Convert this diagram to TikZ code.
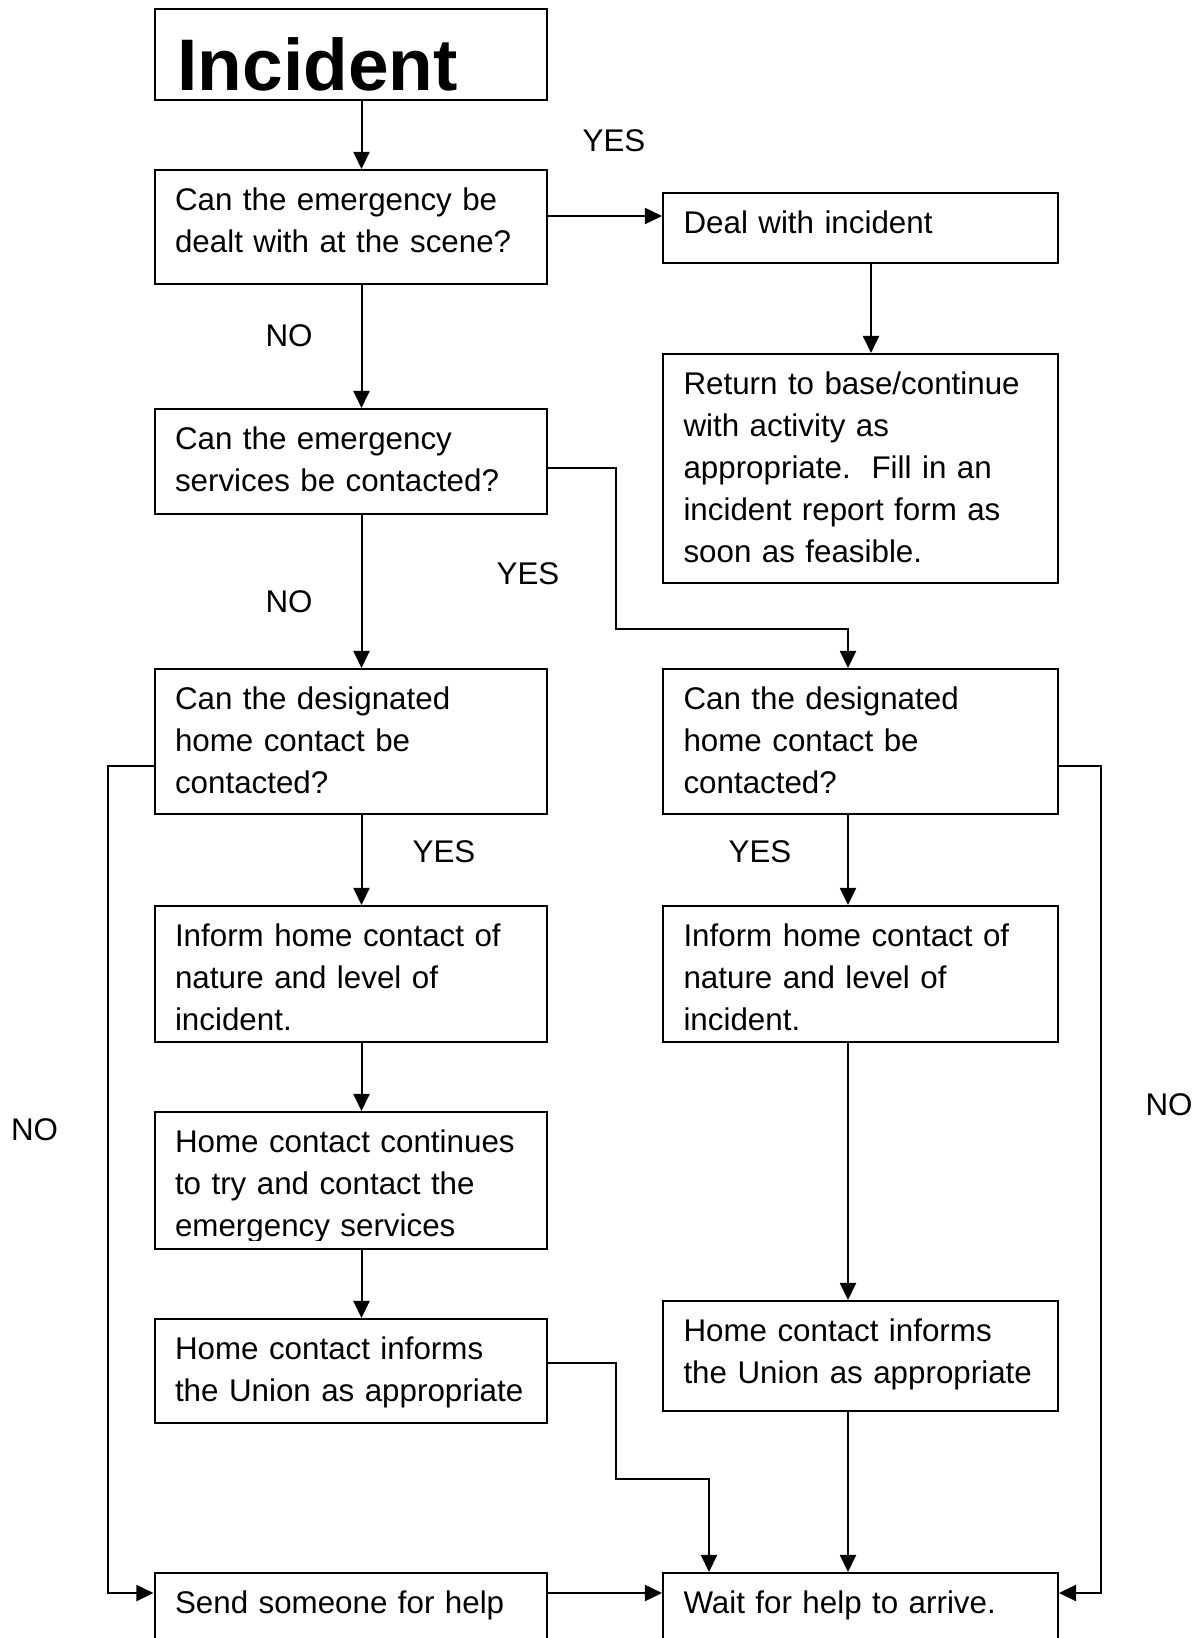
\documentclass[tikz,border=0pt]{standalone}
\usepackage{fontspec}
\setmainfont{Liberation Sans}
\usetikzlibrary{arrows.meta,calc}
\begin{document}
\begin{tikzpicture}[x=0.375pt,y=-0.375pt,
  box/.style={draw, line width=0.75pt, anchor=north west, inner sep=0pt},
  lbox/.style={box, minimum width=147.2pt},
  rbox/.style={box, minimum width=148.1pt},
  txt/.style={anchor=base west, inner sep=0pt, align=left, text width=150pt,
    font=\fontsize{11.75}{15.75}\selectfont},
  lbl/.style={anchor=center, inner sep=0pt, font=\fontsize{11.75}{15.75}\selectfont},
  arr/.style={draw, line width=0.75pt, -{Triangle[length=6.4pt,width=6pt]}}]
\clip (0,0) rectangle (1197,1638);
\fill[white] (0,0) rectangle (1197,1638);
% boxes
\node[lbox, minimum height=34.3pt] (inc) at (153.5,7.5) {};
\node[lbox, minimum height=42.75pt] (q1) at (153.5,169) {};
\node[rbox, minimum height=26.25pt] (deal) at (662,192) {};
\node[rbox, minimum height=85.9pt] (ret) at (662,353) {};
\node[lbox, minimum height=39.4pt] (q2) at (153.5,408) {};
\node[lbox, minimum height=54.4pt] (q3l) at (153.5,668) {};
\node[rbox, minimum height=54.4pt] (q3r) at (662,668) {};
\node[lbox, minimum height=51pt] (infl) at (153.5,905) {};
\node[rbox, minimum height=51pt] (infr) at (662,905) {};
\node[lbox, minimum height=51.5pt] (hcc) at (153.5,1111) {};
\node[lbox, minimum height=39pt] (hl) at (153.5,1318) {};
\node[rbox, minimum height=41.25pt] (hr) at (662,1300) {};
\node[lbox, minimum height=37.5pt] (send) at (153.5,1572) {};
\node[rbox, minimum height=37.5pt] (wait) at (662,1572) {};
% texts
\node[anchor=base west, inner sep=0pt, font=\bfseries\fontsize{27.4}{30}\selectfont] (inct) at ($(inc.north west)+(23.5,82.5)$) {Incident};
\node[txt] (q1t) at ($(q1.north west)+(21,41)$) {Can the emergency be\\dealt with at the scene?};
\node[txt] (dealt) at ($(deal.north west)+(21,41)$) {Deal with incident};
\node[txt] (rett) at ($(ret.north west)+(21,41)$) {Return to base/continue\\with activity as\\appropriate.\ \ Fill in an\\incident report form as\\soon as feasible.};
\node[txt] (q2t) at ($(q2.north west)+(21,41)$) {Can the emergency\\services be contacted?};
\node[txt] (q3lt) at ($(q3l.north west)+(21,41)$) {Can the designated\\home contact be\\contacted?};
\node[txt] (q3rt) at ($(q3r.north west)+(21,41)$) {Can the designated\\home contact be\\contacted?};
\node[txt] (inflt) at ($(infl.north west)+(21,41)$) {Inform home contact of\\nature and level of\\incident.};
\node[txt] (infrt) at ($(infr.north west)+(21,41)$) {Inform home contact of\\nature and level of\\incident.};
\begin{scope}
\clip (hcc.north west) rectangle ($(hcc.south east)+(0,-10)$);
\node[txt] (hcct) at ($(hcc.north west)+(21,41)$) {Home contact continues\\to try and contact the\\emergency services};
\end{scope}
\node[txt] (hlt) at ($(hl.north west)+(21,41)$) {Home contact informs\\the Union as appropriate};
\node[txt] (hrt) at ($(hr.north west)+(21,41)$) {Home contact informs\\the Union as appropriate};
\node[txt] (sendt) at ($(send.north west)+(21,41)$) {Send someone for help};
\node[txt] (waitt) at ($(wait.north west)+(21,41)$) {Wait for help to arrive.};
% labels
\node[lbl] (l1) at (614,141) {YES};
\node[lbl] (l2) at (289,336) {NO};
\node[lbl] (l3) at (289,602) {NO};
\node[lbl] (l4) at (528,574) {YES};
\node[lbl] (l5) at (444,852) {YES};
\node[lbl] (l6) at (760,852) {YES};
\node[lbl] (l7) at (34.5,1130) {NO};
\node[lbl] (l8) at (1169,1105) {NO};
% helper coordinates
\coordinate (cx) at (361.5,0);
\coordinate (rx) at (848,0);
\coordinate (dx) at (871,0);
\coordinate (jx) at (616,0);
\coordinate (jx2) at (709,0);
\coordinate (lnx) at (107.5,0);
\coordinate (rnx) at (1101,0);
\coordinate (yq1) at (0,216);
\coordinate (yq2) at (0,468);
\coordinate (yj) at (0,629);
\coordinate (yno) at (0,766);
\coordinate (yhl) at (0,1363);
\coordinate (yj2) at (0,1479);
\coordinate (ybot) at (0,1593);
% connectors
\draw[arr] (inc.south -| cx) -- (q1.north -| cx);
\draw[arr] (q1.east |- yq1) -- (deal.west |- yq1);
\draw[arr] (deal.south -| dx) -- (ret.north -| dx);
\draw[arr] (q1.south -| cx) -- (q2.north -| cx);
\draw[arr] (q2.east |- yq2) -| (jx |- yj) -| (q3r.north -| rx);
\draw[arr] (q2.south -| cx) -- (q3l.north -| cx);
\draw[arr] (q3l.west |- yno) -| (lnx |- ybot) -- (send.west |- ybot);
\draw[arr] (q3r.east |- yno) -| (rnx |- ybot) -- (wait.east |- ybot);
\draw[arr] (q3l.south -| cx) -- (infl.north -| cx);
\draw[arr] (q3r.south -| rx) -- (infr.north -| rx);
\draw[arr] (infl.south -| cx) -- (hcc.north -| cx);
\draw[arr] (hcc.south -| cx) -- (hl.north -| cx);
\draw[arr] (infr.south -| rx) -- (hr.north -| rx);
\draw[arr] (hr.south -| rx) -- (wait.north -| rx);
\draw[arr] (hl.east |- yhl) -| (jx |- yj2) -| (wait.north -| jx2);
\draw[arr] (send.east |- ybot) -- (wait.west |- ybot);
\end{tikzpicture}
\end{document}
